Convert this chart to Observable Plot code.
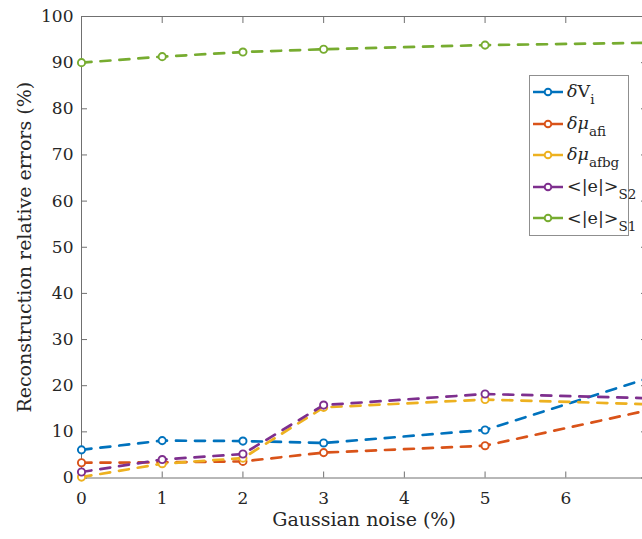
<!DOCTYPE html>
<html>
<head>
<meta charset="utf-8">
<script src="https://cdn.jsdelivr.net/npm/d3@7"></script>
<script src="https://cdn.jsdelivr.net/npm/@observablehq/plot@0.6"></script>
<style>
  html, body { margin: 0; padding: 0; background: #fff; overflow: hidden; }
  #wrap { position: relative; width: 642px; height: 539px; overflow: hidden; }
  #wrap svg { overflow: hidden; display: block; }
  .legend {
    position: absolute; left: 529px; top: 75px; width: 100px; height: 161px;
    box-sizing: border-box; border: 1px solid #8f8f8f; background: #fff;
    font-family: "DejaVu Serif", serif; font-size: 17.5px; color: #262626;
  }
  .legend .row { position: absolute; left: 0; height: 20px; display: flex; align-items: center; white-space: nowrap; }
  .legend svg { overflow: visible; }
  .legend .lab { margin-left: 3px; line-height: 1; }
  .legend sub { font-size: 13.5px; vertical-align: -7px; line-height: 0; }
</style>
</head>
<body>
<div id="wrap"></div>
<script>
// Gaussian noise levels (%) and reconstruction relative errors (%) per quantity
const noise   = [0, 1, 2, 3, 5, 7];
const dV      = [6.1, 8.1, 8.0, 7.6, 10.4, 21.5];
const dMuAfi  = [3.3, 3.4, 3.6, 5.5, 7.0, 14.6];
const dMuAfbg = [0.2, 3.1, 4.3, 15.3, 17.0, 16.0];
const eS2     = [1.3, 4.0, 5.2, 15.8, 18.2, 17.3];
const eS1     = [90.0, 91.3, 92.3, 92.9, 93.8, 94.3];

const xTicks = [0, 1, 2, 3, 4, 5, 6, 7];
const xTickLabels = [0, 1, 2, 3, 4, 5, 6];
const yTicks = [0, 10, 20, 30, 40, 50, 60, 70, 80, 90, 100];

const xLabel = "Gaussian noise (%)";
const yLabel = "Reconstruction relative errors (%)";

const series = [
  {key: "dV",      values: dV,      color: "#0072BD", html: "<i>δ</i>V<sub>i</sub>"},
  {key: "dMuAfi",  values: dMuAfi,  color: "#D95319", html: "<i>δμ</i><sub>afi</sub>"},
  {key: "dMuAfbg", values: dMuAfbg, color: "#EDB120", html: "<i>δμ</i><sub>afbg</sub>"},
  {key: "eS2",     values: eS2,     color: "#7E2F8E", html: "&lt;|e|&gt;<sub>S2</sub>"},
  {key: "eS1",     values: eS1,     color: "#77AC30", html: "&lt;|e|&gt;<sub>S1</sub>"}
];

const axisStroke = "#707070";
const textColor = "#262626";
const tickLen = 6;
const noText = () => "";

// one dashed line + open-circle markers per series, later series drawn on top
const seriesMarks = series.flatMap(s => {
  const rows = noise.map((x, i) => ({x, y: s.values[i]}));
  return [
    Plot.line(rows, {x: "x", y: "y", stroke: s.color, strokeWidth: 2.7, strokeDasharray: "10,9"}),
    Plot.dot(rows, {x: "x", y: "y", r: 3.6, fill: "white", stroke: s.color, strokeWidth: 1.9})
  ];
});

const chart = Plot.plot({
  width: 642,
  height: 539,
  marginLeft: 81,
  marginTop: 16,
  marginBottom: 61.5,
  marginRight: -4,
  x: {domain: [0, 7]},
  y: {domain: [0, 100]},
  style: {fontFamily: "DejaVu Serif, serif", fontSize: "17px", color: textColor, background: "white"},
  marks: [
    Plot.frame({stroke: axisStroke, strokeWidth: 1}),
    // inward-pointing tick marks on all four sides (box style)
    Plot.axisX({anchor: "bottom", ticks: xTicks, tickSize: tickLen, dy: -tickLen, tickFormat: noText, label: null, stroke: axisStroke}),
    Plot.axisX({anchor: "top", ticks: xTicks, tickSize: tickLen, dy: tickLen, tickFormat: noText, label: null, stroke: axisStroke}),
    Plot.axisY({anchor: "left", ticks: yTicks, tickSize: tickLen, dx: tickLen, tickFormat: noText, label: null, stroke: axisStroke}),
    Plot.axisY({anchor: "right", ticks: yTicks, tickSize: tickLen, dx: -tickLen, tickFormat: noText, label: null, stroke: axisStroke}),
    // tick labels
    Plot.axisX({anchor: "bottom", ticks: xTickLabels, tickSize: 0, tickPadding: 14, tickFormat: d => String(d), label: null, fill: textColor, fontSize: 17}),
    Plot.axisY({anchor: "left", ticks: yTicks, tickSize: 0, tickPadding: 8, tickFormat: d => String(d), label: null, fill: textColor, fontSize: 17}),
    // axis titles
    Plot.text([xLabel], {frameAnchor: "bottom", dy: 47.5, fontSize: 19, fill: textColor, textAnchor: "middle"}),
    Plot.text([yLabel], {frameAnchor: "left", dx: -57, rotate: -90, fontSize: 19, fill: textColor, textAnchor: "middle"}),
    ...seriesMarks
  ]
});

const wrap = document.getElementById("wrap");
wrap.appendChild(chart);

// legend box inside the plot area
const legend = document.createElement("div");
legend.className = "legend";
series.forEach((s, i) => {
  const row = document.createElement("div");
  row.className = "row";
  row.style.top = (6 + i * 31.6) + "px";
  row.innerHTML =
    `<svg width="34" height="20"><line x1="3" x2="33" y1="10" y2="10" stroke="${s.color}" stroke-width="2.5"/>` +
    `<circle cx="18" cy="10" r="3.3" fill="white" stroke="${s.color}" stroke-width="1.9"/></svg>` +
    `<span class="lab">${s.html}</span>`;
  legend.appendChild(row);
});
wrap.appendChild(legend);
</script>
</body>
</html>
